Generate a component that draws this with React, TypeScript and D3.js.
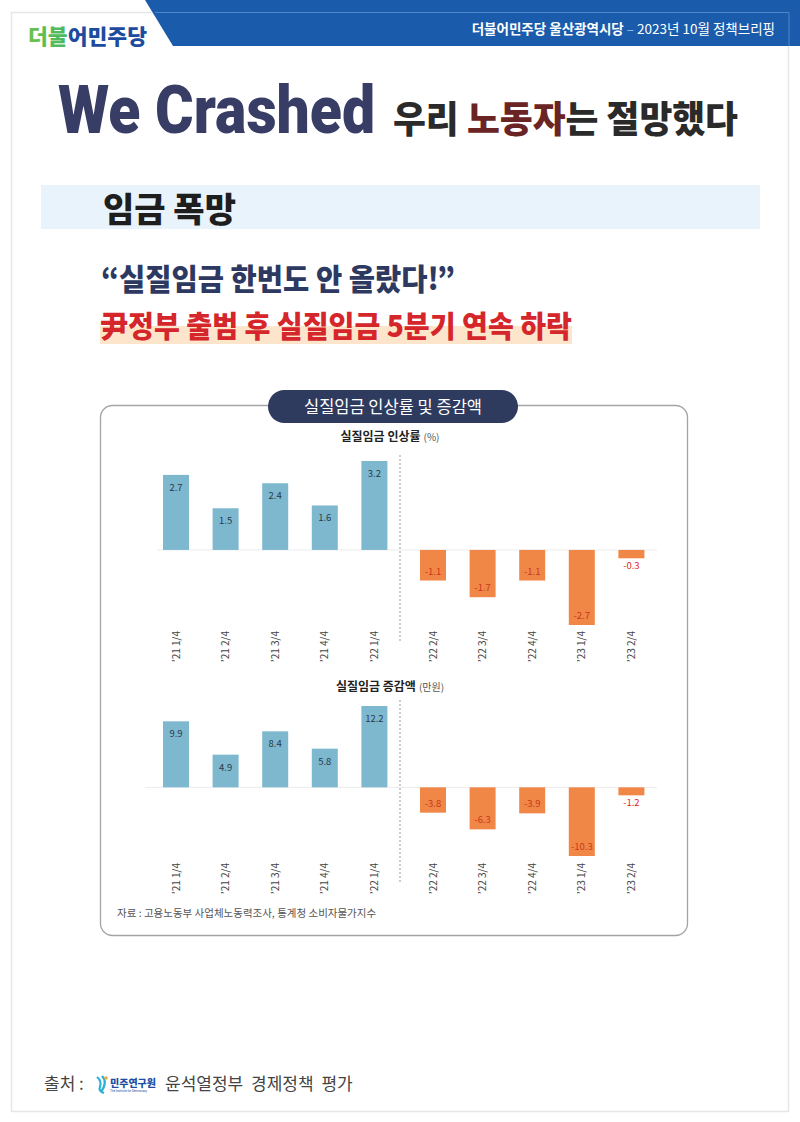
import React from 'react';
import * as d3 from 'd3';

const categories = ['’21 1/4', '’21 2/4', '’21 3/4', '’21 4/4', '’22 1/4', '’22 2/4', '’22 3/4', '’22 4/4', '’23 1/4', '’23 2/4'];
const rateValues = [2.7, 1.5, 2.4, 1.6, 3.2, -1.1, -1.7, -1.1, -2.7, -0.3];
const amountValues = [9.9, 4.9, 8.4, 5.8, 12.2, -3.8, -6.3, -3.9, -10.3, -1.2];
const rateTitle = '실질임금 인상률';
const rateUnit = '(%)';
const amountTitle = '실질임금 증감액';
const amountUnit = '(만원)';

const KR = '"Noto Sans CJK KR", "Noto Sans", sans-serif';
const POS = '#7db8cf';
const NEG = '#f08746';

// band scale for bars, second group (after the dashed line) is pushed right a bit
const x = d3.scaleBand<string>()
  .domain(categories)
  .range([151.2, 647.2])
  .paddingInner(0.476)
  .paddingOuter(0.238);
const GAP = 9;
const barX = (c: string, i: number) => (x(c) as number) + (i >= 5 ? GAP : 0);

interface PanelProps {
  values: number[];
  y: d3.ScaleLinear<number, number>;
  title: string;
  unit: string;
  titleY: number;
  sepTop: number;
  sepBottom: number;
  lineX0: number;
  labelTop: number;
}

const Panel: React.FC<PanelProps> = ({ values, y, title, unit, titleY, sepTop, sepBottom, lineX0, labelTop }) => {
  const y0 = y(0);
  const bw = x.bandwidth();
  return (
    <g>
      <text x={390} y={titleY} textAnchor="middle" fontFamily={KR} fill="#222">
        <tspan fontSize={12} fontWeight={700}>{title}</tspan>
        <tspan fontSize={10} fill="#555" dx={3}>{unit}</tspan>
      </text>
      <line x1={lineX0} x2={657} y1={y0} y2={y0} stroke="#ececec" strokeWidth={1} />
      <line x1={400} x2={400} y1={sepTop} y2={sepBottom} stroke="#999" strokeWidth={1} strokeDasharray="2,2" />
      {values.map((v, i) => {
        const bx = barX(categories[i], i);
        const top = Math.min(y(v), y0);
        const h = Math.abs(y(v) - y0);
        const small = Math.abs(y(v) - y0) < 18;
        let ly: number;
        if (v >= 0) ly = y(v) + 16;
        else if (small) ly = y(v) + 11;
        else ly = y(v) - 6;
        return (
          <g key={i}>
            <rect x={bx} y={top} width={bw} height={h} fill={v >= 0 ? POS : NEG} />
            <text x={bx + bw / 2} y={ly} textAnchor="middle" fontFamily={KR} fontSize={9.5}
              fill={v >= 0 ? '#2b3a4a' : small ? '#e0262a' : '#c8381e'}>{v.toFixed(1)}</text>
            <text transform={`translate(${bx + bw / 2 + 3.5},${labelTop}) rotate(-90)`} textAnchor="end"
              fontFamily={KR} fontSize={10} fill="#444">{categories[i]}</text>
          </g>
        );
      })}
    </g>
  );
};

export default function App() {
  const yRate = d3.scaleLinear().domain([-2.7, 3.2]).range([625, 461]);
  const yAmount = d3.scaleLinear().domain([-10.3, 12.2]).range([856, 706]);

  return (
    <div style={{ position: 'absolute', left: 0, top: 0 }}>
      <svg width={800} height={1122} viewBox="0 0 800 1122" style={{ display: 'block', background: '#fff' }}>
        <defs>
          <linearGradient id="grn" x1="0" x2="1" y1="0" y2="0">
            <stop offset="0" stopColor="#6cc24a" />
            <stop offset="1" stopColor="#00a39a" />
          </linearGradient>
        </defs>
        {/* page frame */}
        <rect x={11.5} y={12.5} width={777} height={1099} fill="none" stroke="#e6e6e6" strokeWidth={1.5} />
        {/* header band */}
        <polygon points="145,0 800,0 800,46 173,46" fill="#1a5cab" />
        <line x1={155} x2={789} y1={12.5} y2={12.5} stroke="#4f86c6" strokeWidth={1} />
        <line x1={789} x2={789} y1={12.5} y2={46} stroke="#4f86c6" strokeWidth={1} />
        <text x={775} y={34} textAnchor="end" fontFamily={KR} fontSize={13.5} fill="#fff">
          <tspan fontWeight={700}>더불어민주당 울산광역시당</tspan>
          <tspan fill="#9dbce0"> – </tspan>
          <tspan>2023년 10월 정책브리핑</tspan>
        </text>
        {/* logo */}
        <text x={28} y={44} fontFamily={KR} fontSize={21} fontWeight={900} textLength={119} lengthAdjust="spacingAndGlyphs">
          <tspan fill="url(#grn)">더불</tspan>
          <tspan fill="#1d4b9e">어민주당</tspan>
        </text>

        {/* headline */}
        <text transform="translate(58,133) scale(1,1.25)" fontFamily="Roboto, 'Noto Sans', sans-serif" fontSize={54}
          fontWeight={900} fill="#383d66" textLength={317} lengthAdjust="spacingAndGlyphs">We Crashed</text>
        <text x={393} y={133} fontFamily={KR} fontSize={37} fontWeight={900} fill="#2a2a2a"
          textLength={345} lengthAdjust="spacingAndGlyphs">
          <tspan>우리 </tspan>
          <tspan fill="#6a2424">노동자</tspan>
          <tspan>는 절망했다</tspan>
        </text>

        {/* section band */}
        <rect x={41} y={185} width={719} height={44} fill="#e9f3fb" />
        <text x={103} y={222} fontFamily={KR} fontSize={34} fontWeight={900} fill="#1e1e1e">임금 폭망</text>

        {/* quotes */}
        <text x={101} y={290} fontFamily={KR} fontSize={30} fontWeight={900} fill="#2d3961"
          textLength={354} lengthAdjust="spacingAndGlyphs">“실질임금 한번도 안 올랐다!”</text>
        <rect x={100} y={326} width={472} height={18} fill="#fde5cc" />
        <text x={100} y={337} fontFamily={KR} fontSize={30} fontWeight={900} fill="#d5262b"
          textLength={472} lengthAdjust="spacingAndGlyphs">尹정부 출범 후 실질임금 5분기 연속 하락</text>

        {/* chart box */}
        <rect x={100.5} y={405.5} width={587} height={530} rx={12} fill="#fff" stroke="#a3a3a8" strokeWidth={1.3} />
        <rect x={268} y={390} width={250} height={33} rx={16.5} fill="#2e3a5e" />
        <text x={393} y={413} textAnchor="middle" fontFamily={KR} fontSize={16.5} fill="#fff">실질임금 인상률 및 증감액</text>

        <Panel values={rateValues} y={yRate} title={rateTitle} unit={rateUnit} titleY={441}
          sepTop={455} sepBottom={643} lineX0={157} labelTop={631} />
        <Panel values={amountValues} y={yAmount} title={amountTitle} unit={amountUnit} titleY={691}
          sepTop={700} sepBottom={884} lineX0={145} labelTop={863} />

        <text x={117} y={917} fontFamily={KR} fontSize={10.5} fill="#555">자료 : 고용노동부 사업체노동력조사, 통계청 소비자물가지수</text>

        {/* footer */}
        <text x={44} y={1090} fontFamily={KR} fontSize={17} fill="#444">출처 :</text>
        <g>
          <path d="M97,1077 q5,4 3,10 q-2,4 4,6 M102,1076 q6,6 -1,16" fill="none" stroke="#2ab0d8" strokeWidth={2.2} />
          <circle cx={106} cy={1078} r={1.8} fill="#f2a93b" />
          <text x={110} y={1087} fontFamily={KR} fontSize={10} fontWeight={900} fill="#1b4fa3">민주연구원</text>
          <text x={110} y={1092} fontFamily="Roboto, sans-serif" fontSize={3} fill="#1b4fa3">The Institute for Democracy</text>
        </g>
        <text x={165} y={1090} fontFamily={KR} fontSize={17} fill="#444" wordSpacing={4}>윤석열정부 경제정책 평가</text>
      </svg>
    </div>
  );
}
